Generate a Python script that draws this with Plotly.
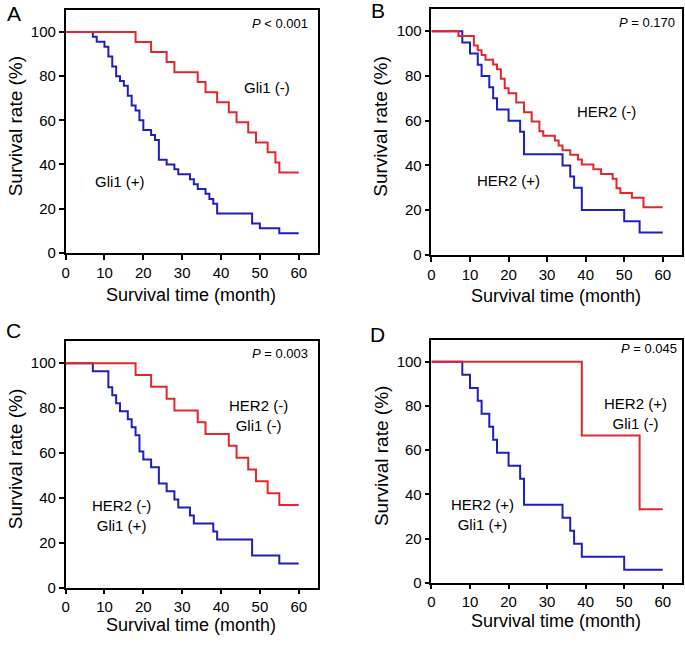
import plotly.graph_objects as go

# Kaplan-Meier curves (month, survival %)
a_neg_t = [0, 18, 22, 26, 28, 34, 36, 39, 42, 44, 47, 49, 52, 54, 55, 60]
a_neg_s = [100, 95.5, 90.9, 86.4, 81.8, 77.3, 72.7, 68.2, 63.6, 59.1, 54.5, 50.0, 45.5, 40.9, 36.4, 36.4]
a_pos_t = [0, 7, 8, 10, 11, 12, 13, 14, 15, 16, 17, 18, 19, 20, 22, 23, 24, 26, 28, 29,
           32, 33, 34, 36, 37, 38, 39, 48, 50, 55, 60]
a_pos_s = [100, 97.8, 95.6, 93.3, 88.9, 84.4, 80.0, 77.8, 75.6, 71.1, 66.7, 64.4, 60.0, 55.6,
           53.3, 51.1, 42.2, 40.0, 37.8, 35.6, 33.3, 31.1, 28.9, 26.7, 24.4, 22.2, 17.8, 13.3,
           11.1, 8.9, 8.9]

b_neg_t = [0, 7, 11, 12, 13, 14, 16, 17, 18, 19, 20, 22, 24, 26, 28, 29, 32, 33, 34, 36,
           38, 39, 42, 44, 47, 48, 49, 52, 55, 60]
b_neg_s = [100, 97.9, 93.6, 91.5, 89.4, 87.2, 85.1, 83.0, 78.7, 74.5, 72.3, 68.1, 63.8, 59.6,
           55.3, 53.2, 51.1, 48.9, 46.8, 44.7, 42.6, 40.4, 38.3, 36.2, 34.0, 29.8, 27.7, 25.5,
           21.3, 21.3]
b_pos_t = [0, 8, 10, 12, 13, 15, 16, 17, 20, 23, 24, 34, 36, 37, 39, 50, 54, 60]
b_pos_s = [100, 95, 90, 85, 80, 75, 70, 65, 60, 55, 45, 40, 35, 30, 20, 15, 10, 10]

c_neg_t = [0, 18, 22, 26, 28, 34, 36, 42, 44, 47, 49, 52, 55, 60]
c_neg_s = [100, 94.7, 89.5, 84.2, 78.9, 73.7, 68.4, 63.2, 57.9, 52.6, 47.4, 42.1, 36.8, 36.8]
c_pos_t = [0, 7, 11, 12, 13, 14, 16, 17, 18, 19, 20, 22, 24, 26, 28, 29, 32, 33, 38, 39,
           48, 55, 60]
c_pos_s = [100, 96.4, 89.3, 85.7, 82.1, 78.6, 75.0, 71.4, 67.9, 60.7, 57.1, 53.6, 46.4, 42.9,
           39.3, 35.7, 32.1, 28.6, 25.0, 21.4, 14.3, 10.7, 10.7]

d_neg_t = [0, 39, 54, 60]
d_neg_s = [100, 66.7, 33.3, 33.3]
d_pos_t = [0, 8, 10, 12, 13, 15, 16, 17, 20, 23, 24, 34, 36, 37, 39, 50, 60]
d_pos_s = [100, 94.1, 88.2, 82.4, 76.5, 70.6, 64.7, 58.8, 52.9, 47.1, 35.3, 29.4, 23.5,
           17.6, 11.8, 5.9, 5.9]

panel_letters = ["A", "B", "C", "D"]
p_values = ["<i>P</i> &lt; 0.001", "<i>P</i> = 0.170", "<i>P</i> = 0.003", "<i>P</i> = 0.045"]
neg_labels = ["Gli1 (-)", "HER2 (-)", "HER2 (-)<br>Gli1 (-)", "HER2 (+)<br>Gli1 (-)"]
pos_labels = ["Gli1 (+)", "HER2 (+)", "HER2 (-)<br>Gli1 (+)", "HER2 (+)<br>Gli1 (+)"]
neg_pos = [(51.9, 75), (45.4, 64), (49.6, 76.5), (53, 76.8)]
pos_pos = [(14.1, 32.4), (19.9, 33.3), (14.5, 32.2), (13.2, 30.9)]
x_ticks = [0, 10, 20, 30, 40, 50, 60]
y_ticks = [0, 20, 40, 60, 80, 100]

W, H = 685, 646
RED = "#e3262b"
BLUE = "#1f1fc0"
FONT = "Liberation Sans, Arial, sans-serif"

# panel boxes in pixels: left, right, top, bottom
boxes = [(62, 316, 10, 256), (430, 682, 9, 258), (62, 316, 345, 595), (430, 682, 344, 590)]
xtitle_y = [299, 300, 633, 629]
p_right = [308, 677, 308, 679]
p_y = [24, 23, 358, 353]
letter_pos = [(10, 14), (376, 11), (10, 335), (376, 339)]

curves = [(a_pos_t, a_pos_s, a_neg_t, a_neg_s), (b_pos_t, b_pos_s, b_neg_t, b_neg_s),
          (c_pos_t, c_pos_s, c_neg_t, c_neg_s), (d_pos_t, d_pos_s, d_neg_t, d_neg_s)]

fig = go.Figure()
ann = []
for i, (pt, ps, nt, ns) in enumerate(curves):
    k = "" if i == 0 else str(i + 1)
    fig.add_trace(go.Scatter(x=pt, y=ps, mode="lines", line=dict(color=BLUE, width=2, shape="hv"),
                             xaxis="x" + k, yaxis="y" + k, showlegend=False))
    fig.add_trace(go.Scatter(x=nt, y=ns, mode="lines", line=dict(color=RED, width=2, shape="hv"),
                             xaxis="x" + k, yaxis="y" + k, showlegend=False))
    l, r, t, b = boxes[i]
    axstyle = dict(showline=True, linecolor="black", linewidth=1.6, mirror=True,
                   ticks="outside", ticklen=5, tickwidth=1.6, tickcolor="black",
                   showgrid=False, zeroline=False, tickfont=dict(size=15, color="black"))
    fig.update_layout(**{
        "xaxis" + k: dict(domain=[l / W, r / W], range=[0, 65], tickvals=x_ticks,
                          anchor="y" + k, **axstyle),
        "yaxis" + k: dict(domain=[1 - b / H, 1 - t / H], range=[0, 110], tickvals=y_ticks,
                          anchor="x" + k, **axstyle),
    })
    # axis titles
    ann.append(dict(text="Survival time (month)", xref="paper", yref="paper",
                    x=((l + r) / 2 - 1) / W, y=1 - xtitle_y[i] / H, showarrow=False,
                    xanchor="center", yanchor="middle", font=dict(size=18)))
    ann.append(dict(text="Survival rate (%)", xref="paper", yref="paper", textangle=-90,
                    x=(l - 51) / W, y=1 - ((t + b) / 2 - 5) / H, showarrow=False,
                    xanchor="center", yanchor="middle", font=dict(size=19)))
    ann.append(dict(text=panel_letters[i], xref="paper", yref="paper",
                    x=letter_pos[i][0] / W, y=1 - letter_pos[i][1] / H, showarrow=False,
                    xanchor="center", yanchor="middle", font=dict(size=21)))
    ann.append(dict(text=p_values[i], xref="paper", yref="paper",
                    x=p_right[i] / W, y=1 - p_y[i] / H, showarrow=False,
                    xanchor="right", yanchor="middle", font=dict(size=13)))
    ann.append(dict(text=neg_labels[i], xref="x" + k, yref="y" + k, x=neg_pos[i][0],
                    y=neg_pos[i][1], showarrow=False, font=dict(size=15)))
    ann.append(dict(text=pos_labels[i], xref="x" + k, yref="y" + k, x=pos_pos[i][0],
                    y=pos_pos[i][1], showarrow=False, font=dict(size=15)))

fig.update_layout(width=W, height=H, autosize=False, margin=dict(l=0, r=0, t=0, b=0),
                  paper_bgcolor="white", plot_bgcolor="white",
                  font=dict(family=FONT, color="black"), annotations=ann)

# page body has a default 8px margin; drop it so the figure fills the window
fig.write_html("out.html",
               config={"responsive": False, "displayModeBar": False},
               post_script="document.body.style.margin = '0';"
                           "document.body.style.overflow = 'hidden';")
